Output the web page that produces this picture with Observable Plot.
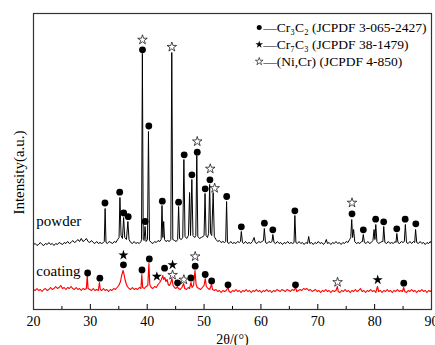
<!DOCTYPE html>
<html>
<head>
<meta charset="utf-8">
<script src="https://cdn.jsdelivr.net/npm/d3@7"></script>
<script src="https://cdn.jsdelivr.net/npm/@observablehq/plot@0.6"></script>
<style>
  html, body { margin: 0; padding: 0; background: #fff; }
  #chart svg { display: block; }
</style>
</head>
<body>
<div id="chart"></div>
<script>
// ---- data (2θ in degrees, intensity in arbitrary units) ----
const powderTrace = [
  [20.0,65],[20.3,66],[20.6,64],[20.9,65],[21.2,67],[21.5,65],[21.8,64],[22.1,66],[22.4,65],[22.7,67],
  [23.0,65],[23.3,66],[23.6,64],[23.9,66],[24.2,65],[24.5,67],[24.8,66],[25.1,65],[25.4,67],[25.7,66],
  [26.0,68],[26.3,66],[26.6,67],[26.9,69],[27.2,67],[27.5,68],[27.8,70],[28.1,68],[28.4,71],[28.7,68],
  [29.0,69],[29.3,71],[29.6,68],[29.9,67],[30.2,69],[30.5,67],[30.8,66],[31.1,68],[31.4,66],[31.7,67],
  [32.0,66],[32.3,67],[32.45,68],[32.6,101],[32.75,67],[33.0,66],[33.3,68],[33.6,67],[33.9,66],[34.2,68],
  [34.5,67],[34.8,70],[35.05,72],[35.2,112],[35.4,74],[35.65,71],[35.85,92],[36.05,72],[36.35,70],[36.6,88],
  [36.8,70],[37.1,67],[37.4,66],[37.7,68],[38.0,66],[38.3,67],[38.6,66],[38.9,68],[39.0,70],[39.15,256],
  [39.3,70],[39.45,69],[39.62,83],[39.8,68],[40.05,70],[40.22,178],[40.4,69],[40.7,67],[41.0,66],[41.3,68],
  [41.6,67],[41.9,69],[42.2,68],[42.45,70],[42.6,104],[42.75,72],[42.9,88],[43.05,70],[43.3,68],[43.6,69],
  [43.9,68],[44.15,70],[44.32,257],[44.5,70],[44.8,69],[45.1,68],[45.35,70],[45.52,103],[45.7,71],[46.0,70],
  [46.25,72],[46.45,150],[46.65,73],[46.95,71],[47.25,74],[47.45,117],[47.62,74],[47.85,130],[48.05,74],[48.35,72],
  [48.55,74],[48.72,154],[48.9,73],[49.2,71],[49.5,72],[49.8,73],[50.0,74],[50.17,116],[50.35,74],[50.6,72],
  [50.8,76],[50.98,125],[51.15,76],[51.35,74],[51.6,117],[51.8,73],[52.1,70],[52.4,68],[52.7,69],[53.0,67],
  [53.3,68],[53.6,67],[53.8,68],[53.96,108],[54.12,67],[54.4,66],[54.7,68],[55.0,66],[55.3,67],[55.6,66],
  [55.9,68],[56.2,67],[56.4,68],[56.55,78],[56.75,67],[57.0,66],[57.3,68],[57.6,66],[57.9,67],[58.2,66],
  [58.5,68],[58.8,72],[59.0,67],[59.3,66],[59.6,68],[59.9,67],[60.2,68],[60.45,69],[60.6,81],[60.8,67],
  [61.1,66],[61.4,68],[61.7,67],[61.95,68],[62.1,75],[62.3,67],[62.6,66],[62.9,68],[63.2,66],[63.5,67],
  [63.8,65],[64.1,67],[64.4,66],[64.7,68],[65.0,66],[65.3,67],[65.6,66],[65.82,67],[65.97,94],[66.15,67],
  [66.4,66],[66.7,68],[67.0,66],[67.3,67],[67.6,65],[67.9,67],[68.2,66],[68.4,73],[68.6,66],[68.9,67],
  [69.2,65],[69.5,67],[69.8,66],[70.1,68],[70.4,66],[70.7,67],[71.0,65],[71.3,67],[71.5,70],[71.7,66],
  [72.0,67],[72.3,65],[72.6,67],[72.9,66],[73.2,68],[73.5,66],[73.8,67],[74.1,65],[74.4,67],[74.7,66],
  [75.0,68],[75.3,67],[75.6,70],[75.8,72],[75.97,90],[76.12,72],[76.3,80],[76.5,68],[76.8,66],[77.1,67],
  [77.4,66],[77.7,68],[77.85,68],[78.0,75],[78.2,67],[78.5,66],[78.8,68],[79.1,66],[79.4,67],[79.7,69],
  [79.9,80],[80.05,70],[80.2,85],[80.4,68],[80.7,66],[81.0,67],[81.3,68],[81.45,68],[81.6,83],[81.8,67],
  [82.1,66],[82.4,68],[82.7,66],[83.0,67],[83.3,66],[83.6,68],[83.75,67],[83.9,76],[84.1,67],[84.4,66],
  [84.7,68],[85.0,67],[85.22,68],[85.4,85],[85.6,67],[85.9,66],[86.2,68],[86.5,66],[86.8,68],[87.05,67],
  [87.2,80],[87.4,67],[87.7,66],[88.0,68],[88.3,66],[88.6,67],[88.9,65],[89.2,67],[89.5,66],[89.8,68],[90.0,66]
];

const coatingTrace = [
  [20.0,20],[20.3,19],[20.6,21],[20.9,19],[21.2,20],[21.5,18],[21.8,20],[22.1,21],[22.4,19],[22.7,20],
  [23.0,22],[23.3,20],[23.6,21],[23.9,23],[24.2,21],[24.5,22],[24.8,24],[25.1,21],[25.4,22],[25.7,20],
  [26.0,22],[26.3,21],[26.6,23],[26.9,21],[27.2,20],[27.5,22],[27.8,20],[28.1,21],[28.4,19],[28.7,21],
  [29.0,20],[29.3,21],[29.45,34],[29.6,21],[29.9,20],[30.2,19],[30.5,21],[30.8,19],[31.1,20],[31.4,19],
  [31.6,27],[31.75,20],[32.0,19],[32.3,21],[32.6,19],[32.9,20],[33.2,18],[33.5,20],[33.8,19],[34.1,21],
  [34.4,20],[34.7,22],[35.0,24],[35.3,28],[35.5,34],[35.75,39],[35.9,36],[36.1,30],[36.3,26],[36.5,23],
  [36.8,21],[37.1,20],[37.4,22],[37.7,20],[38.0,21],[38.3,20],[38.6,22],[38.9,21],[39.05,35],[39.2,22],
  [39.5,21],[39.8,23],[40.1,24],[40.3,46],[40.45,25],[40.7,22],[41.0,21],[41.3,23],[41.6,22],[41.9,25],
  [42.2,27],[42.5,30],[42.75,34],[42.9,30],[43.1,32],[43.3,28],[43.5,30],[43.7,25],[43.9,24],[44.1,26],
  [44.35,31],[44.55,24],[44.8,22],[45.05,21],[45.3,23],[45.5,21],[45.8,20],[46.1,22],[46.4,26],[46.6,21],
  [46.9,20],[47.2,22],[47.45,21],[47.7,27],[47.9,22],[48.15,24],[48.4,39],[48.6,25],[48.8,22],[49.1,21],
  [49.4,20],[49.7,22],[50.0,24],[50.2,31],[50.4,23],[50.7,21],[51.0,20],[51.3,25],[51.5,20],[51.8,19],
  [52.1,20],[52.4,18],[52.7,19],[53.0,17],[53.3,19],[53.6,18],[53.9,19],[54.2,22],[54.4,18],[54.7,17],
  [55.0,19],[55.3,18],[55.6,20],[55.9,18],[56.2,19],[56.5,17],[56.8,19],[57.1,18],[57.4,20],[57.7,18],
  [58.0,19],[58.3,17],[58.6,19],[58.9,18],[59.2,20],[59.5,18],[59.8,19],[60.1,17],[60.4,19],[60.7,18],
  [61.0,20],[61.3,18],[61.6,19],[61.9,17],[62.2,19],[62.5,18],[62.8,20],[63.1,19],[63.4,18],[63.7,20],
  [64.0,19],[64.3,18],[64.6,20],[64.9,19],[65.2,18],[65.5,20],[65.8,19],[66.1,22],[66.3,18],[66.6,19],
  [66.9,20],[67.2,19],[67.5,21],[67.8,20],[68.1,21],[68.4,19],[68.7,20],[69.0,18],[69.3,19],[69.6,20],
  [69.9,18],[70.2,19],[70.5,17],[70.8,19],[71.1,18],[71.4,20],[71.7,18],[72.0,19],[72.3,17],[72.6,19],
  [72.9,18],[73.2,19],[73.45,23],[73.6,18],[73.9,17],[74.2,19],[74.5,18],[74.8,20],[75.1,18],[75.4,19],
  [75.7,17],[76.0,19],[76.3,18],[76.6,20],[76.9,18],[77.2,19],[77.5,21],[77.8,18],[78.1,19],[78.4,17],
  [78.7,19],[79.0,18],[79.3,20],[79.6,18],[79.9,19],[80.2,17],[80.5,23],[80.7,18],[81.0,19],[81.3,17],
  [81.6,19],[81.9,18],[82.2,20],[82.5,18],[82.8,19],[83.1,17],[83.4,19],[83.7,18],[84.0,20],[84.3,18],
  [84.6,19],[84.9,18],[85.1,22],[85.3,18],[85.6,17],[85.9,19],[86.2,18],[86.5,20],[86.8,18],[87.1,19],
  [87.4,17],[87.7,19],[88.0,18],[88.3,20],[88.6,18],[88.9,19],[89.2,17],[89.5,19],[89.8,18],[90.0,19]
];

// phase markers [2θ, marker height]
const powderCr3C2 = [
  [32.57,106.5],[35.16,117.3],[35.87,96.5],[36.66,92.8],[39.17,259.7],[39.63,88],[40.28,183.5],
  [42.66,108.3],[45.52,107.3],[46.5,154.7],[47.86,134.7],[48.8,157.3],[50.2,120.7],[51.03,129.7],
  [53.98,113],[56.55,82.7],[60.61,86.3],[62.09,79.7],[65.97,98.7],[76.02,95.7],[78.01,79.7],
  [80.18,90.3],[81.59,87.7],[83.89,80.7],[85.37,90.3],[87.24,85.7]
];
const powderNiCr = [
  [39.17,269.7],[44.33,262.5],[48.8,168],[51.09,140.7],[51.86,121.3],[76.02,106.7]
];
const coatingCr3C2 = [
  [29.52,36.5],[31.67,31.3],[35.82,44.7],[39.08,39.5],[40.37,50.5],[43.05,41.3],[45.34,26.7],
  [47.68,31.5],[48.44,43.3],[50.2,35],[51.33,28.5],[54.21,24.7],[66.08,24.7],[85.12,26.3]
];
const coatingCr7C3 = [
  [35.82,54.3],[41.69,33],[44.46,44.7],[80.54,29.7]
];
const coatingNiCr = [
  [44.46,34.5],[46.45,29.8],[48.44,53],[73.48,27.3]
];

const sampleLabels = [
  {x: 20.5, y: 88, text: "powder"},
  {x: 20.5, y: 38, text: "coating"}
];
const legendLabels = [
  "—Cr₃C₂ (JCPDF 3-065-2427)",
  "—Cr₇C₃ (JCPDF 38-1479)",
  "—(Ni,Cr) (JCPDF 4-850)"
];
const legendSymbols = ["circle", "star", "star-open"];
const legendX = 59.7;
const legendTextX = 60.4;
const legendY = [282, 265, 248];

const majorTicks = [20, 30, 40, 50, 60, 70, 80, 90];
const minorTicks = [25, 35, 45, 55, 65, 75, 85];

const xLabel = "2θ/(°)";
const yLabel = "Intensity(a.u.)";

// ---- chart ----
const legendRows = legendLabels.map((t, i) => ({text: t, symbol: legendSymbols[i], x: legendX, tx: legendTextX, y: legendY[i]}));

const chart = Plot.plot({
  width: 435,
  height: 345,
  marginTop: 13,
  marginBottom: 36,
  marginLeft: 33,
  marginRight: 4,
  style: {fontFamily: "'Liberation Serif', 'Times New Roman', serif", fontSize: "14px", background: "#fff", color: "#000"},
  x: {domain: [20, 90]},
  y: {domain: [0, 296], axis: null},
  marks: [
    Plot.line(powderTrace, {x: d => d[0], y: d => d[1], stroke: "#000", strokeWidth: 1}),
    Plot.line(coatingTrace, {x: d => d[0], y: d => d[1], stroke: "#ff0000", strokeWidth: 1.15}),
    Plot.dot(powderCr3C2, {x: d => d[0], y: d => d[1], r: 3.4, fill: "#000", stroke: null}),
    Plot.dot(powderNiCr, {x: d => d[0], y: d => d[1], symbol: "star", r: 3, fill: "#fff", stroke: "#000", strokeWidth: 0.7}),
    Plot.dot(coatingCr3C2, {x: d => d[0], y: d => d[1], r: 3.4, fill: "#000", stroke: null}),
    Plot.dot(coatingCr7C3, {x: d => d[0], y: d => d[1], symbol: "star", r: 3.2, fill: "#000", stroke: null}),
    Plot.dot(coatingNiCr, {x: d => d[0], y: d => d[1], symbol: "star", r: 3, fill: "#fff", stroke: "#000", strokeWidth: 0.7}),
    Plot.text(sampleLabels, {x: "x", y: "y", text: "text", textAnchor: "start", fontSize: 15, fill: "#000"}),
    // legend
    Plot.dot(legendRows.filter(d => d.symbol === "circle"), {x: "x", y: "y", r: 2.5, fill: "#000", stroke: null}),
    Plot.dot(legendRows.filter(d => d.symbol === "star"), {x: "x", y: "y", symbol: "star", r: 2.4, fill: "#000", stroke: null}),
    Plot.dot(legendRows.filter(d => d.symbol === "star-open"), {x: "x", y: "y", symbol: "star", r: 2.4, fill: "#fff", stroke: "#000", strokeWidth: 0.6}),
    Plot.text(legendRows, {x: "tx", y: "y", text: "text", textAnchor: "start", fontSize: 13.5, fill: "#000"}),
    // axes
    Plot.axisX({ticks: majorTicks, tickSize: -5, tickPadding: 12, fontSize: 14, label: xLabel, labelAnchor: "center", labelArrow: "none", labelOffset: 34}),
    Plot.axisX({ticks: minorTicks, tickSize: -3, tickFormat: () => "", label: null}),
    Plot.text([yLabel], {text: d => d, frameAnchor: "left", textAnchor: "middle", dx: -14, dy: 11, rotate: -90, fontSize: 15, fill: "#000"}),
    Plot.frame({stroke: "#333", strokeWidth: 1.2})
  ]
});

document.getElementById("chart").appendChild(chart);
</script>
</body>
</html>
